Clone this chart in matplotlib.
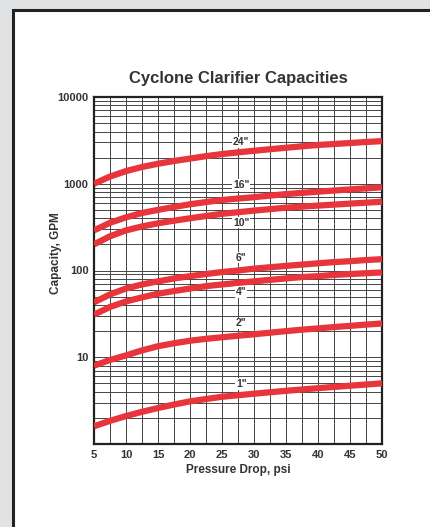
import numpy as np
import matplotlib.pyplot as plt
from matplotlib.patches import Rectangle
from matplotlib.ticker import FixedLocator, LogLocator, NullFormatter

plt.rcParams['font.family'] = ['Liberation Sans', 'DejaVu Sans']

# pressure drop, psi
pressure = [5, 7.5, 10, 12.5, 15, 17.5, 20, 22.5, 25, 27.5, 30,
            32.5, 35, 37.5, 40, 42.5, 45, 47.5, 50]

# capacity, GPM, per cyclone size
cap_24 = [1000, 1210, 1400, 1560, 1700, 1830, 1950, 2080, 2200, 2300, 2400,
          2500, 2600, 2700, 2800, 2870, 2950, 3030, 3100]
cap_16 = [290, 355, 410, 460, 500, 540, 580, 615, 650, 675, 700,
          730, 760, 785, 810, 835, 860, 885, 910]
cap_10 = [200, 248, 290, 322, 350, 375, 400, 425, 450, 470, 490,
          510, 530, 545, 560, 575, 590, 605, 620]
cap_6 = [43, 53, 62, 69, 75, 81, 86, 91, 96, 100, 105,
         109, 113, 117, 121, 125, 128, 132, 135]
cap_4 = [31, 38, 44, 49, 54, 58, 62, 66, 69, 72, 75,
         78, 81, 84, 86, 89, 91, 93, 95]
cap_2 = [8, 9.3, 10.5, 12, 13.4, 14.5, 15.5, 16.3, 17, 17.7, 18.4,
         19.2, 20, 20.8, 21.5, 22.3, 23, 23.8, 24.5]
cap_1 = [1.6, 1.85, 2.1, 2.35, 2.6, 2.85, 3.1, 3.3, 3.5, 3.65, 3.8,
         3.95, 4.1, 4.25, 4.4, 4.55, 4.7, 4.85, 5.0]

sizes = ['24"', '16"', '10"', '6"', '4"', '2"', '1"']
series = [cap_24, cap_16, cap_10, cap_6, cap_4, cap_2, cap_1]
label_y = [3000, 960, 356, 141, 57, 24.6, 4.9]
label_x = 28

red = '#e8353b'
txt = '#333333'

fig = plt.figure(figsize=(4.31, 5.27), dpi=100)
fig.patch.set_facecolor('#e1e2e4')
# white panel with dark frame, behind the axes
fig.patches.append(Rectangle((13 / 431, -0.05), 1.0, 1 - 10 / 527 + 0.05,
                             transform=fig.transFigure, facecolor='white',
                             edgecolor='#222222', linewidth=2.2, zorder=-10))

ax = fig.add_axes([94 / 431, 1 - 444 / 527, 288 / 431, 347 / 527])
ax.set_yscale('log')
ax.set_xlim(5, 50)
ax.set_ylim(1, 10000)

for vals in series:
    ax.plot(pressure, vals, color=red, linewidth=4.5, solid_capstyle='butt',
            solid_joinstyle='round', zorder=3)

for s, yv in zip(sizes, label_y):
    ax.text(label_x, yv, s, ha='center', va='center', fontsize=7.5, color=txt,
            fontweight='bold', zorder=4,
            bbox=dict(facecolor='white', edgecolor='none', pad=0.6))

ax.xaxis.set_major_locator(FixedLocator([5, 10, 15, 20, 25, 30, 35, 40, 45, 50]))
ax.xaxis.set_minor_locator(FixedLocator(np.arange(7.5, 50, 5)))
ax.yaxis.set_major_locator(FixedLocator([10, 100, 1000, 10000]))
ax.yaxis.set_minor_locator(LogLocator(base=10, subs=np.arange(2, 10)))
ax.yaxis.set_minor_formatter(NullFormatter())
ax.set_yticklabels(['10', '100', '1000', '10000'])

ax.grid(which='both', color='#444444', linewidth=0.7)
ax.tick_params(which='both', length=0, pad=4, labelsize=8, labelcolor=txt)
for lab in ax.get_xticklabels() + ax.get_yticklabels():
    lab.set_fontweight('bold')
for sp in ax.spines.values():
    sp.set_linewidth(1.6)
    sp.set_color('#222222')

ax.set_xlabel('Pressure Drop, psi', fontsize=8.5, fontweight='bold', color=txt, labelpad=3)
ax.set_ylabel('Capacity, GPM', fontsize=8.5, fontweight='bold', color=txt)
ax.yaxis.set_label_coords(-0.11, 0.55)
ax.set_title('Cyclone Clarifier Capacities', fontsize=12, fontweight='bold', color=txt, pad=10)

fig.savefig('out.png', dpi=100)
